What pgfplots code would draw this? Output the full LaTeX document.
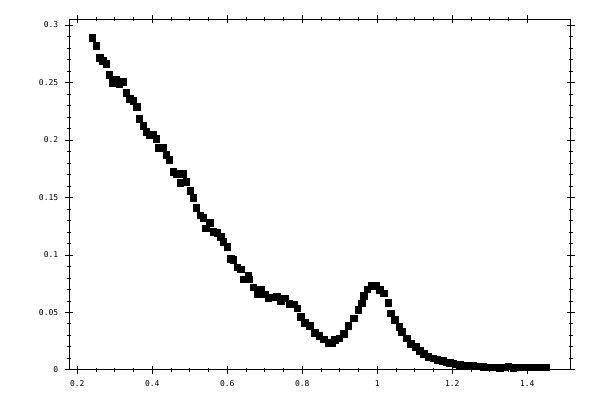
\documentclass[border=0pt]{standalone}
\usepackage{fontspec}
\usepackage{pgfplots}
\pgfplotsset{compat=1.18}
\newfontfamily\labfont{DejaVu Sans Mono}

\begin{document}
\begin{tikzpicture}
\useasboundingbox (-34.65pt,-15pt) rectangle (265.35pt,185pt);
\begin{axis}[
  at={(0,0)}, anchor=south west,
  scale only axis,
  width=250.7pt, height=175.35pt,
  xmin=0.1787, xmax=1.5157,
  ymin=0, ymax=0.305,
  axis line style={line width=0.5pt},
  xtick={0.2,0.4,0.6,0.8,1,1.2,1.4},
  xticklabels={0.2,0.4,0.6,0.8,1,1.2,1.4},
  ytick={0,0.05,0.1,0.15,0.2,0.25,0.3},
  yticklabels={0,0.05,0.1,0.15,0.2,0.25,0.3},
  minor x tick num=3,
  minor y tick num=4,
  tick align=center,
  major tick length=4pt,
  minor tick length=2pt,
  tick style={line width=0.5pt, black},
  tick label style={font=\labfont\fontsize{4}{4}\selectfont},
  /pgf/number format/assume math mode=true,
]
\addplot[only marks, mark=square*, mark size=1.65pt,
         mark options={fill=black, draw=none}]
coordinates {
(0.2400,0.2888) (0.2507,0.2818) (0.2597,0.2714) (0.2677,0.2688)
(0.2774,0.2662) (0.2853,0.2567) (0.2933,0.2497) (0.3040,0.2523)
(0.3120,0.2488) (0.3210,0.2506) (0.3307,0.2410) (0.3397,0.2358)
(0.3494,0.2341) (0.3584,0.2289) (0.3653,0.2185) (0.3760,0.2124)
(0.3840,0.2072) (0.3920,0.2046) (0.4027,0.2046) (0.4107,0.2011)
(0.4179,0.1933) (0.4285,0.1933) (0.4374,0.1872) (0.4453,0.1829)
(0.4560,0.1725) (0.4650,0.1707) (0.4747,0.1629) (0.4827,0.1707)
(0.4907,0.1638) (0.5013,0.1560) (0.5093,0.1499) (0.5173,0.1412)
(0.5280,0.1343) (0.5360,0.1325) (0.5432,0.1230) (0.5539,0.1279)
(0.5627,0.1200) (0.5733,0.1192) (0.5824,0.1157) (0.5893,0.1114)
(0.6000,0.1070) (0.6090,0.0964) (0.6160,0.0955) (0.6267,0.0891)
(0.6357,0.0874) (0.6445,0.0787) (0.6560,0.0819) (0.6587,0.0787)
(0.6693,0.0718) (0.6800,0.0657) (0.6899,0.0694) (0.7005,0.0657)
(0.7093,0.0622) (0.7210,0.0631) (0.7317,0.0636) (0.7424,0.0601)
(0.7539,0.0622) (0.7653,0.0573) (0.7787,0.0570) (0.7867,0.0535)
(0.7965,0.0463) (0.8072,0.0411) (0.8205,0.0382) (0.8339,0.0324)
(0.8453,0.0295) (0.8579,0.0266) (0.8693,0.0237) (0.8784,0.0237)
(0.8872,0.0260) (0.8987,0.0275) (0.9112,0.0312) (0.9227,0.0382)
(0.9379,0.0449) (0.9493,0.0521) (0.9584,0.0579) (0.9645,0.0642)
(0.9733,0.0700) (0.9851,0.0729) (0.9965,0.0729) (1.0072,0.0694)
(1.0179,0.0666) (1.0293,0.0584) (1.0365,0.0492) (1.0472,0.0434)
(1.0587,0.0376) (1.0651,0.0332) (1.0784,0.0275) (1.0899,0.0226)
(1.1032,0.0202) (1.1139,0.0168) (1.1245,0.0139) (1.1360,0.0115)
(1.1493,0.0102) (1.1600,0.0087) (1.1744,0.0078) (1.1850,0.0066)
(1.1940,0.0062) (1.2027,0.0058) (1.2120,0.0050) (1.2205,0.0043)
(1.2300,0.0040) (1.2384,0.0035) (1.2470,0.0035) (1.2560,0.0035)
(1.2650,0.0032) (1.2740,0.0030) (1.2830,0.0027) (1.2917,0.0023)
(1.3000,0.0023) (1.3093,0.0023) (1.3180,0.0022) (1.3270,0.0020)
(1.3380,0.0024) (1.3493,0.0030) (1.3627,0.0020) (1.3710,0.0022)
(1.3805,0.0023) (1.3890,0.0023) (1.3984,0.0023) (1.4070,0.0023)
(1.4160,0.0023) (1.4230,0.0023) (1.4293,0.0023) (1.4499,0.0023)
};
\end{axis}
\end{tikzpicture}
\end{document}
